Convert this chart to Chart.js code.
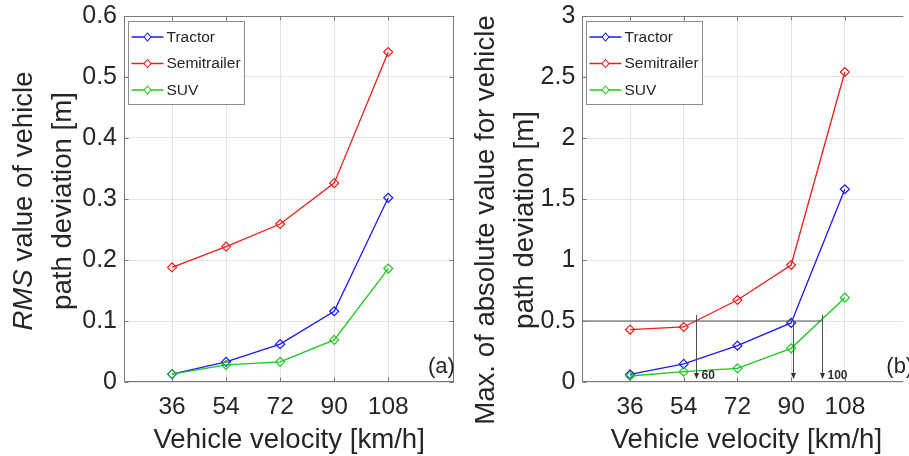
<!DOCTYPE html>
<html>
<head>
<meta charset="utf-8">
<script src="https://cdn.jsdelivr.net/npm/chart.js@4.4.0/dist/chart.umd.min.js"></script>
<style>
html, body { margin: 0; padding: 0; background: #fff; width: 909px; height: 456px; overflow: hidden; }
#chartA { position: absolute; left: 0; top: 0; }
#chartB { position: absolute; left: 460px; top: 0; }
</style>
</head>
<body>
<canvas id="chartA" width="460" height="456"></canvas>
<canvas id="chartB" width="449" height="456"></canvas>
<script>
// Data
const velocities = [36, 54, 72, 90, 108];
const seriesNames = ['Tractor', 'Semitrailer', 'SUV'];
const seriesColors = ['#1a1af5', '#ee1c1c', '#1ec81e'];

const rmsTractor     = [0.013, 0.033, 0.062, 0.116, 0.302];
const rmsSemitrailer = [0.188, 0.222, 0.259, 0.326, 0.541];
const rmsSuv         = [0.013, 0.028, 0.033, 0.069, 0.186];

const maxTractor     = [0.063, 0.148, 0.298, 0.484, 1.580];
const maxSemitrailer = [0.429, 0.451, 0.672, 0.959, 2.541];
const maxSuv         = [0.049, 0.085, 0.112, 0.276, 0.691];

const rmsTicks = [0, 0.1, 0.2, 0.3, 0.4, 0.5, 0.6];
const maxTicks = [0, 0.5, 1, 1.5, 2, 2.5, 3];

// 0.5 m threshold marks on panel (b)
const thresholdValue = 0.5;
const crossSpeeds = [58.2, 90.5, 100.2];
const crossTops = [0.55, 0.5, 0.55];
const crossLabels = ['60', '', '100'];

const fontFamily = '"Liberation Sans", Arial, Helvetica, sans-serif';
const textColor = '#262626';
const axisColor = '#7a7a7a';
const gridColor = '#e4e4e4';

function buildDatasets(values) {
    return values.map((vals, i) => ({
        label: seriesNames[i],
        data: velocities.map((v, j) => ({ x: v, y: vals[j] })),
        borderColor: seriesColors[i],
        backgroundColor: 'rgba(0,0,0,0)',
        borderWidth: 1.3,
        pointStyle: 'rectRot',
        pointRadius: 4.5,
        pointHoverRadius: 4.5,
        pointBorderWidth: 1.2,
        pointBackgroundColor: 'rgba(0,0,0,0)',
        tension: 0,
        fill: false,
        order: values.length - 1 - i
    }));
}

// Draws a rotated multi-line title, each line a list of [text, italic] parts
function drawRotatedTitle(ctx, lines, xs, cy, size) {
    lines.forEach((parts, li) => {
        ctx.save();
        ctx.translate(xs[li], cy);
        ctx.rotate(-Math.PI / 2);
        ctx.fillStyle = textColor;
        ctx.textBaseline = 'middle';
        ctx.textAlign = 'left';
        let total = 0;
        parts.forEach(p => {
            ctx.font = (p[1] ? 'italic ' : '') + size + 'px ' + fontFamily;
            total += ctx.measureText(p[0]).width;
        });
        let pos = -total / 2;
        parts.forEach(p => {
            ctx.font = (p[1] ? 'italic ' : '') + size + 'px ' + fontFamily;
            ctx.fillText(p[0], pos, 0);
            pos += ctx.measureText(p[0]).width;
        });
        ctx.restore();
    });
}

function decorPlugin(cfg) {
    return {
        id: 'decor',
        afterDatasetsDraw(chart) {
            if (!cfg.threshold) return;
            const ctx = chart.ctx;
            const xs = chart.scales.x, ys = chart.scales.y;
            const yT = ys.getPixelForValue(thresholdValue);
            ctx.save();
            ctx.strokeStyle = '#505050';
            ctx.fillStyle = '#303030';
            ctx.lineWidth = 1;
            ctx.beginPath();
            ctx.moveTo(xs.getPixelForValue(xs.min), yT);
            ctx.lineTo(xs.getPixelForValue(crossSpeeds[crossSpeeds.length - 1]), yT);
            ctx.stroke();
            crossSpeeds.forEach((s, i) => {
                const px = Math.round(xs.getPixelForValue(s)) + 0.5;
                const top = ys.getPixelForValue(crossTops[i]);
                const tip = ys.getPixelForValue(0.025);
                ctx.beginPath();
                ctx.moveTo(px, top);
                ctx.lineTo(px, tip - 5);
                ctx.stroke();
                ctx.beginPath();
                ctx.moveTo(px - 2.5, tip - 6);
                ctx.lineTo(px + 2.5, tip - 6);
                ctx.lineTo(px, tip);
                ctx.closePath();
                ctx.fill();
                if (crossLabels[i]) {
                    ctx.font = 'bold 12px ' + fontFamily;
                    ctx.textBaseline = 'middle';
                    ctx.textAlign = 'left';
                    ctx.fillText(crossLabels[i], px + 5, tip - 3);
                }
            });
            ctx.restore();
        },
        afterDraw(chart) {
            const ctx = chart.ctx;
            const a = chart.chartArea;
            const xs = chart.scales.x, ys = chart.scales.y;
            const L = Math.round(a.left) + 0.5, R = Math.round(a.right) - 0.5;
            const T = Math.round(a.top) + 0.5, B = Math.round(a.bottom) - 0.5;
            ctx.save();
            // axes box
            ctx.strokeStyle = axisColor;
            ctx.lineWidth = 1;
            ctx.beginPath();
            ctx.moveTo(L, T); ctx.lineTo(L, B); ctx.lineTo(a.right, B);
            ctx.moveTo(L, T); ctx.lineTo(a.right, T);
            if (cfg.rightBorder) { ctx.moveTo(R, T); ctx.lineTo(R, B); }
            // inward ticks
            velocities.forEach(v => {
                const px = Math.round(xs.getPixelForValue(v)) + 0.5;
                ctx.moveTo(px, B); ctx.lineTo(px, B - 4);
                ctx.moveTo(px, T); ctx.lineTo(px, T + 4);
            });
            cfg.yTicks.forEach(v => {
                const py = Math.round(ys.getPixelForValue(v)) + 0.5;
                ctx.moveTo(L, py); ctx.lineTo(L + 4, py);
                if (cfg.rightBorder) { ctx.moveTo(R, py); ctx.lineTo(R - 4, py); }
            });
            ctx.stroke();

            // axis titles
            drawRotatedTitle(ctx, cfg.yTitle, cfg.yTitleX, cfg.yTitleY, 27.6);
            ctx.fillStyle = textColor;
            ctx.font = '27.6px ' + fontFamily;
            ctx.textAlign = 'center';
            ctx.textBaseline = 'middle';
            ctx.fillText('Vehicle velocity [km/h]', xs.getPixelForValue(75), 440);

            // panel label
            ctx.font = '22px ' + fontFamily;
            ctx.textAlign = 'left';
            ctx.fillText(cfg.panel, a.left + 304, a.bottom - 15);

            // legend
            const bx = Math.round(a.left + 4) + 0.5, by = Math.round(a.top + 5) + 0.5;
            ctx.fillStyle = '#fff';
            ctx.fillRect(bx, by, 116, 83);
            ctx.strokeStyle = '#8c8c8c';
            ctx.strokeRect(bx, by, 116, 83);
            chart.data.datasets.forEach((ds, i) => {
                const ry = by + 15.5 + i * 26.5;
                ctx.strokeStyle = ds.borderColor;
                ctx.lineWidth = 1.3;
                ctx.beginPath();
                ctx.moveTo(bx + 3, ry); ctx.lineTo(bx + 35, ry);
                ctx.stroke();
                ctx.lineWidth = 1.1;
                ctx.beginPath();
                ctx.moveTo(bx + 19, ry - 4); ctx.lineTo(bx + 22.5, ry);
                ctx.lineTo(bx + 19, ry + 4); ctx.lineTo(bx + 15.5, ry);
                ctx.closePath();
                ctx.fillStyle = '#fff';
                ctx.fill();
                ctx.stroke();
                ctx.fillStyle = textColor;
                ctx.font = '15.5px ' + fontFamily;
                ctx.textAlign = 'left';
                ctx.textBaseline = 'middle';
                ctx.fillText(ds.label, bx + 38, ry + 0.5);
            });
            ctx.restore();
        }
    };
}

function makeChart(id, values, opt) {
    return new Chart(document.getElementById(id), {
        type: 'line',
        data: { datasets: buildDatasets(values) },
        options: {
            responsive: false,
            animation: false,
            events: [],
            layout: { padding: { left: 0, top: 16, right: opt.padRight, bottom: 0 } },
            plugins: { legend: { display: false }, tooltip: { enabled: false } },
            scales: {
                x: {
                    type: 'linear',
                    min: 20,
                    max: opt.xMax,
                    afterBuildTicks: s => { s.ticks = velocities.map(v => ({ value: v })); },
                    afterFit: s => { s.height = 74; s.paddingLeft = 0; s.paddingRight = 0; },
                    grid: { color: gridColor, drawTicks: false },
                    border: { display: false },
                    ticks: {
                        color: textColor,
                        padding: 11,
                        maxRotation: 0,
                        autoSkip: false,
                        font: { family: fontFamily, size: 24.5 }
                    }
                },
                y: {
                    type: 'linear',
                    min: 0,
                    max: opt.yTicks[opt.yTicks.length - 1],
                    afterBuildTicks: s => { s.ticks = opt.yTicks.map(v => ({ value: v })); },
                    afterFit: s => { s.width = opt.yWidth; s.paddingTop = 0; s.paddingBottom = 0; },
                    grid: { color: gridColor, drawTicks: false },
                    border: { display: false },
                    ticks: {
                        color: textColor,
                        padding: 7,
                        font: { family: fontFamily, size: 25 },
                        callback: v => String(v)
                    }
                }
            }
        },
        plugins: [decorPlugin({
            rightBorder: opt.rightBorder,
            threshold: opt.threshold,
            yTicks: opt.yTicks,
            yTitle: opt.yTitle,
            yTitleX: opt.yTitleX,
            yTitleY: opt.yTitleY,
            panel: opt.panel
        })]
    });
}

makeChart('chartA', [rmsTractor, rmsSemitrailer, rmsSuv], {
    xMax: 130,
    padRight: 1.5,
    yWidth: 124,
    yTicks: rmsTicks,
    rightBorder: true,
    threshold: false,
    yTitle: [[['RMS', true], [' value of vehicle', false]], [['path deviation [m]', false]]],
    yTitleX: [24, 63],
    yTitleY: 201,
    panel: '(a)'
});

makeChart('chartB', [maxTractor, maxSemitrailer, maxSuv], {
    xMax: 127.6,
    padRight: 0,
    yWidth: 122.3,
    yTicks: maxTicks,
    rightBorder: false,
    threshold: true,
    yTitle: [[['Max. of absolute value for vehicle', false]], [['path deviation [m]', false]]],
    yTitleX: [26, 65],
    yTitleY: 220,
    panel: '(b)'
});
</script>
</body>
</html>
